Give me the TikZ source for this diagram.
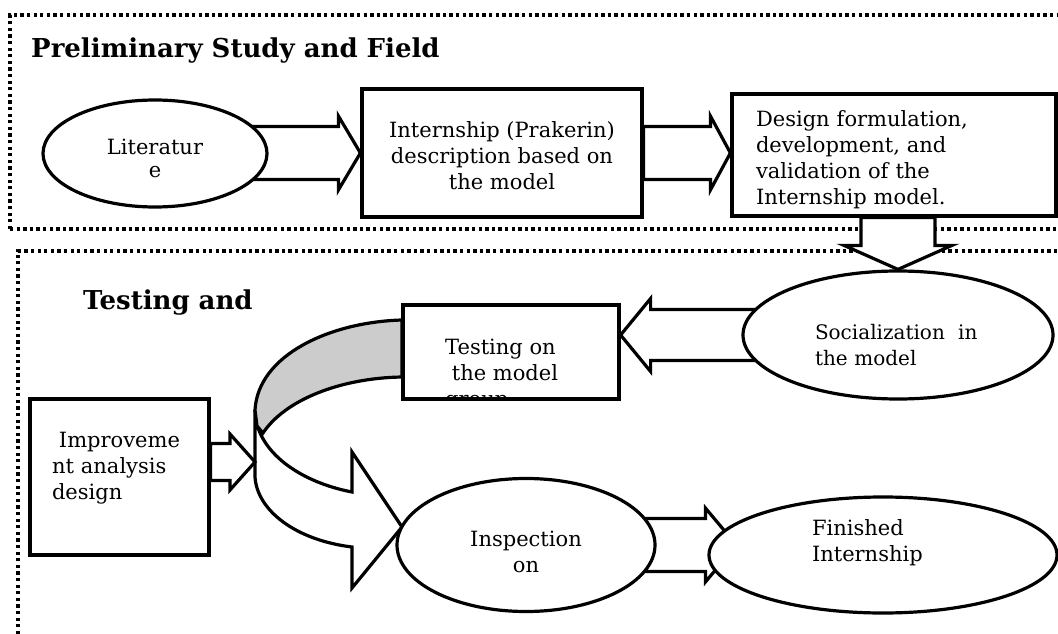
\documentclass[tikz,border=0pt]{standalone}
\usepackage{fontspec}
\setmainfont{DejaVu Serif}
\usetikzlibrary{shapes,calc}
\pgfdeclarelayer{back}
\pgfsetlayers{back,main}
\newcommand{\boxfont}{\fontsize{21}{26}\selectfont}
\tikzstyle{block} = [rectangle, draw, line width=3.2pt, fill=white, inner sep=0pt, font=\boxfont]
\tikzstyle{oval} = [ellipse, draw, line width=3.2pt, fill=white, inner sep=0pt, font=\boxfont]
\tikzstyle{barrow} = [draw, line width=3.2pt, fill=white, line join=miter]
\tikzstyle{dotframe} = [draw, line width=3.3pt, dash pattern=on 3.3pt off 3.3pt]
\tikzstyle{heading} = [font=\fontsize{26}{30}\selectfont\bfseries, anchor=base west, inner sep=0pt]

\begin{document}
\begin{tikzpicture}[x=1pt, y=-1pt]
\useasboundingbox (0,0) rectangle (1058,634);

% upper part
\node [heading] (t1) at (31,58) {Preliminary Study and Field};
\node [oval, minimum width=224pt, minimum height=107pt, align=center, font=\fontsize{21}{23}\selectfont] (p1) at (155,153.5) {\rule{0pt}{26pt}Literatur\\e};
\node [block, minimum width=280pt, minimum height=128pt, align=center] (p2) at (502,153) {\rule{0pt}{22pt}Internship (Prakerin)\\description based on\\the model};
\node [block, minimum width=324pt, minimum height=122pt, align=left, text width=276pt] (p3) at (894,155) {\rule{0pt}{25pt}Design formulation,\\development, and\\validation of the\\Internship model.};

% lower part
\node [heading] (t2) at (83,309) {Testing and};
\node [oval, minimum width=310pt, minimum height=128pt, align=left, text width=166pt, font=\fontsize{20}{26}\selectfont] (p4) at (898,335) {\rule{0pt}{36pt}Socialization\ \ in\\the model};
\node [block, minimum width=216pt, minimum height=94pt] (p5) at (511,352) {};
\begin{scope}
\clip (p5.south west) rectangle (p5.north east);
\node [anchor=base west, align=left, inner sep=0pt, font=\boxfont] (p5t) at (445,406) {Testing on\\\ the model\\group};
\end{scope}
\node [block, minimum width=179pt, minimum height=156pt, align=left, text width=135pt] (p6) at (119.5,477) {\ Improveme\\nt analysis\\design\rule[-22pt]{0pt}{22pt}};
\node [oval, minimum width=258pt, minimum height=133pt, align=center] (p7) at (526,545) {\rule{0pt}{30pt}Inspection\\on};
\node [oval, minimum width=348pt, minimum height=116pt, align=left, text width=142pt] (p8) at (883,555) {Finished\\Internship\rule[-28pt]{0pt}{28pt}};

\coordinate (cl) at (255,462);
\coordinate (q8) at ($(p8.west |- p7.east)+(29,0)$);

\begin{pgfonlayer}{back}
\path [dotframe] (10,229) -- (10,15) -- (1058,15);
\path [dotframe] (10,229) -- (1058,229);
\path [dotframe] (18,634) -- (18,251) -- (1058,251);

\path [barrow] (p2.west) -- ++(-22,-37) -- ++(0,10.5) -- ($(p1 |- p2.west)+(0,-26.5)$) -- ++(0,53) -- ($(p2.west)+(-22,26.5)$) -- ++(0,10.5) -- cycle;
\path [barrow] (p3.west |- p2.east) -- ++(-20,-37) -- ++(0,10.5) -- ($(p2.east)+(0,-26.5)$) -- ++(0,53) -- ($(p3.west |- p2.east)+(-20,26.5)$) -- ++(0,10.5) -- cycle;
\path [barrow] (p4.north) -- ++(-54,-24) -- ++(17,0) -- ($(p4.north |- p3.south)+(-37,0)$) -- ++(74,0) -- ($(p4.north)+(37,-24)$) -- ++(17,0) -- cycle;
\path [barrow] (p5.east |- p4.west) -- ++(30,-36.5) -- ++(0,11) -- ($(p4.center)+(0,-25.5)$) -- ++(0,51) -- ($(p5.east |- p4.west)+(30,25.5)$) -- ++(0,11) -- cycle;

% curved arrow from testing to inspection
\path [barrow] (255,410) -- (255,477) .. controls (257,510) and (295,540) .. (352,547) -- (352,588) -- (402,527) -- (352,452) -- (352,492) .. controls (300,482) and (257,452) .. (255,412) -- cycle;
\path [barrow, fill=gray!40] (402,320) .. controls (330,322) and (258,355) .. (255,410) -- (257,426) -- (263,433) .. controls (285,400) and (340,378) .. (402,377) -- cycle;

\path [barrow] (cl) -- ++(-25,-28) -- ++(0,9.5) -- ($(p6.east |- cl)+(0,-18.5)$) -- ++(0,37) -- ($(cl)+(-25,18.5)$) -- ++(0,9.5) -- cycle;
\path [barrow] (q8) -- ++(-31,-37) -- ++(0,10.5) -- ($(p7.center)+(0,-26.5)$) -- ++(0,53) -- ($(q8)+(-31,26.5)$) -- ++(0,10.5) -- cycle;
\end{pgfonlayer}
\end{tikzpicture}
\end{document}
